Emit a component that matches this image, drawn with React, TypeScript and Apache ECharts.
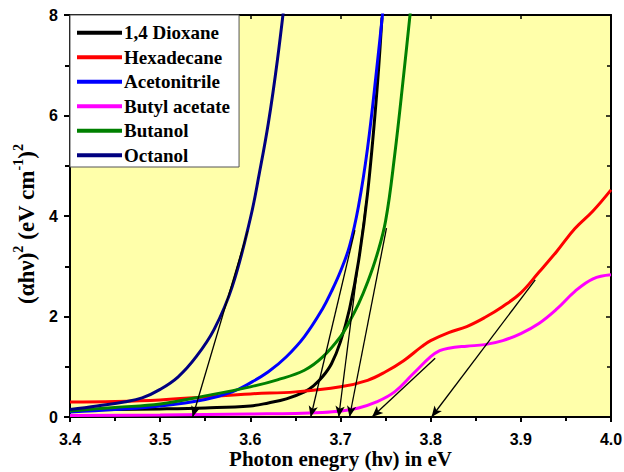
import React, { useEffect, useRef } from "react";
import * as echarts from "echarts";

const seriesNames = ["1,4 Dioxane", "Hexadecane", "Acetonitrile", "Butyl acetate", "Butanol", "Octanol"];
const seriesColors = ["#000000", "#ff0000", "#0000ff", "#ff00ff", "#008000", "#000080"];

const dioxane = [
  [3.4, 0.14], [3.45, 0.15], [3.5, 0.16], [3.55, 0.18], [3.6, 0.22], [3.62, 0.28], [3.64, 0.36],
  [3.66, 0.5], [3.67, 0.62], [3.68, 0.8], [3.69, 1.06], [3.7, 1.5], [3.71, 2.15], [3.72, 3.1],
  [3.73, 4.45], [3.74, 6.4], [3.746, 7.95],
];
const hexadecane = [
  [3.4, 0.3], [3.45, 0.31], [3.5, 0.34], [3.55, 0.4], [3.6, 0.46], [3.65, 0.5], [3.7, 0.6],
  [3.73, 0.73], [3.75, 0.9], [3.77, 1.12], [3.79, 1.4], [3.8, 1.52], [3.82, 1.68], [3.84, 1.8],
  [3.86, 1.98], [3.88, 2.2], [3.9, 2.47], [3.92, 2.88], [3.94, 3.3], [3.96, 3.75], [3.98, 4.1], [4.0, 4.52],
];
const acetonitrile = [
  [3.4, 0.1], [3.45, 0.15], [3.5, 0.22], [3.55, 0.35], [3.58, 0.5], [3.6, 0.68], [3.62, 0.9],
  [3.64, 1.2], [3.66, 1.6], [3.68, 2.15], [3.69, 2.5], [3.7, 2.9], [3.71, 3.4], [3.72, 4.2],
  [3.73, 5.35], [3.74, 6.9], [3.75, 8.6],
];
const butylAcetate = [
  [3.4, 0.03], [3.5, 0.04], [3.6, 0.06], [3.65, 0.07], [3.68, 0.09], [3.7, 0.12], [3.72, 0.18],
  [3.74, 0.3], [3.76, 0.5], [3.78, 0.85], [3.8, 1.2], [3.81, 1.32], [3.82, 1.37], [3.84, 1.41],
  [3.86, 1.44], [3.88, 1.52], [3.9, 1.66], [3.92, 1.86], [3.94, 2.15], [3.96, 2.5], [3.98, 2.75], [4.0, 2.83],
];
const butanol = [
  [3.4, 0.12], [3.45, 0.19], [3.5, 0.26], [3.55, 0.42], [3.6, 0.6], [3.63, 0.74], [3.66, 0.93],
  [3.68, 1.19], [3.7, 1.6], [3.71, 1.9], [3.72, 2.25], [3.73, 2.68], [3.74, 3.2], [3.75, 3.9],
  [3.76, 5.2], [3.77, 6.8], [3.78, 8.5],
];
const octanol = [
  [3.4, 0.15], [3.43, 0.22], [3.46, 0.3], [3.48, 0.38], [3.5, 0.55], [3.52, 0.8], [3.54, 1.2],
  [3.56, 1.75], [3.58, 2.6], [3.6, 3.95], [3.61, 4.85], [3.62, 5.85], [3.63, 7.1], [3.64, 8.6],
];

// Tangent lines: [x start, y start, x-intercept]
const tangents = [
  [3.597, 3.7, 3.536],
  [3.716, 3.72, 3.667],
  [3.7285, 4.3, 3.698],
  [3.751, 3.76, 3.71],
  [3.805, 1.17, 3.735],
  [3.916, 2.73, 3.801],
];

const xTicks = { min: 3.4, max: 4.0, interval: 0.1 };
const yTicks = { min: 0, max: 8, interval: 2 };

const allData = [dioxane, hexadecane, acetonitrile, butylAcetate, butanol, octanol];

const serif = "'Liberation Serif', 'Times New Roman', serif";
const sans = "'Liberation Sans', Arial, sans-serif";

export default function App() {
  const ref = useRef<HTMLDivElement>(null);
  useEffect(() => {
    const chart = echarts.init(ref.current!, null, { renderer: "svg" });
    const axisCommon = {
      type: "value",
      axisLine: { show: true, onZero: false, lineStyle: { color: "#000", width: 2 } },
      splitLine: { show: false },
    };
    const series: any[] = allData.map((d, i) => ({
      name: seriesNames[i],
      type: "line",
      data: d,
      smooth: 0.4,
      showSymbol: false,
      symbol: "none",
      lineStyle: { color: seriesColors[i], width: 3 },
      itemStyle: { color: seriesColors[i] },
      z: 3,
    }));
    series.push({
      name: "tangents",
      type: "line",
      data: [],
      markLine: {
        silent: true,
        animation: false,
        label: { show: false },
        lineStyle: { color: "#000", width: 1.3, type: "solid" },
        emphasis: { disabled: true },
        data: tangents.map((t) => [
          { coord: [t[0], t[1]], symbol: "none" },
          { coord: [t[2], 0], symbol: "arrow", symbolSize: [7, 11] },
        ]),
      },
      z: 4,
    });
    chart.setOption({
      animation: false,
      grid: {
        left: 70, right: 13, top: 15, bottom: 55,
        containLabel: false, outerBoundsMode: "none",
        show: true, backgroundColor: "#FFFFAA", borderWidth: 0,
      },
      legend: {
        data: seriesNames,
        orient: "vertical",
        left: 70,
        top: 15,
        icon: "rect",
        itemWidth: 45,
        itemHeight: 4,
        itemGap: 5,
        padding: [8, 9, 2, 7],
        backgroundColor: "#ffffff",
        borderColor: "#555",
        borderWidth: 1,
        borderRadius: 0,
        selectedMode: false,
        textStyle: { fontFamily: serif, fontWeight: "bold", fontSize: 19, color: "#000", lineHeight: 19.5, padding: [0, 0, 0, -3] },
      },
      xAxis: [
        {
          ...axisCommon,
          position: "bottom",
          min: xTicks.min,
          max: xTicks.max,
          interval: xTicks.interval,
          axisTick: { show: true, inside: false, length: 5, lineStyle: { color: "#000", width: 2 } },
          minorTick: { show: true, splitNumber: 2, length: 4, lineStyle: { color: "#000", width: 2 } },
          axisLabel: {
            formatter: (v: number) => v.toFixed(1),
            fontFamily: sans,
            fontWeight: "bold",
            fontSize: 16,
            color: "#000",
            margin: 14,
          },
          name: "Photon enegry (hν) in eV",
          nameLocation: "middle",
          nameGap: 31,
          nameMoveOverlap: false,
          nameTextStyle: { fontFamily: serif, fontWeight: "bold", fontSize: 21, color: "#000", lineHeight: 22 },
        },
        {
          ...axisCommon,
          position: "top",
          min: xTicks.min,
          max: xTicks.max,
          interval: xTicks.interval,
          axisTick: { show: true, inside: true, length: 4, lineStyle: { color: "#000", width: 1.5 } },
          minorTick: { show: false },
          axisLabel: { show: false },
        },
      ],
      yAxis: [
        {
          ...axisCommon,
          position: "left",
          min: yTicks.min,
          max: yTicks.max,
          interval: yTicks.interval,
          axisTick: { show: true, inside: false, length: 6, lineStyle: { color: "#000", width: 2 } },
          minorTick: { show: true, splitNumber: 2, length: 5, lineStyle: { color: "#000", width: 2 } },
          axisLabel: { fontFamily: sans, fontWeight: "bold", fontSize: 16, color: "#000", margin: 12 },
          name: "{a|(αhν)}{s|2}{a| (eV cm}{s|-1}{a|)}{s|2}",
          nameLocation: "middle",
          nameRotate: 90,
          nameGap: 32,
          nameMoveOverlap: false,
          nameTextStyle: {
            padding: [0, 16, 0, 0],
            rich: {
              a: { fontFamily: serif, fontWeight: "bold", fontSize: 23, color: "#000", lineHeight: 27, verticalAlign: "bottom" },
              s: { fontFamily: serif, fontWeight: "bold", fontSize: 14, color: "#000", lineHeight: 27, verticalAlign: "top" },
            },
          },
        },
        {
          ...axisCommon,
          position: "right",
          min: yTicks.min,
          max: yTicks.max,
          interval: yTicks.interval,
          axisTick: { show: true, inside: true, length: 5, lineStyle: { color: "#000", width: 1.5 } },
          minorTick: { show: true, splitNumber: 2, length: 4, lineStyle: { color: "#000", width: 1.5 } },
          axisLabel: { show: false },
        },
      ],
      series,
    });
    return () => chart.dispose();
  }, []);
  return <div ref={ref} style={{ width: 624, height: 472, position: "absolute", left: 0, top: 0 }} />;
}
